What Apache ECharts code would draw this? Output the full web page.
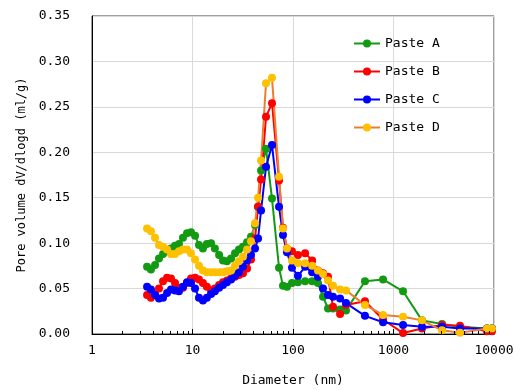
<!DOCTYPE html>
<html>
<head>
<meta charset="utf-8">
<script src="https://cdn.jsdelivr.net/npm/echarts@6/dist/echarts.min.js"></script>
<style>html,body{margin:0;padding:0;background:#fff}#c{width:520px;height:390px}</style>
</head>
<body>
<div id="c"></div>
<script>
// Pore diameters (nm)
const diameters = [3.53,3.86,4.24,4.64,5.09,5.58,6.11,6.70,7.34,8.04,8.82,9.66,10.6,11.6,12.7,13.9,15.3,16.7,18.4,20.1,22.0,24.2,26.5,29.0,31.8,34.9,38.2,41.9,44.9,48.1,53.9,61.8,72.6,79.5,87.1,97.7,112,132,155,177,199,223,250,294,337,520,787,1245,1920,3040,4590,8510,9550];
const pasteA = [0.074,0.071,0.076,0.083,0.088,0.091,0.094,0.097,0.099,0.106,0.111,0.112,0.108,0.098,0.094,0.099,0.100,0.094,0.087,0.081,0.080,0.083,0.089,0.093,0.096,0.101,0.107,0.120,0.140,0.180,0.204,0.149,0.073,0.053,0.052,0.056,0.057,0.058,0.058,0.056,0.041,0.028,0.028,0.027,0.026,0.058,0.060,0.047,0.015,0.011,0.008,0.006,0.006];
const pasteB = [0.043,0.040,0.044,0.050,0.058,0.062,0.061,0.056,0.051,0.051,0.056,0.061,0.062,0.060,0.056,0.052,0.048,0.050,0.054,0.057,0.059,0.061,0.063,0.065,0.067,0.072,0.082,0.105,0.140,0.170,0.239,0.254,0.169,0.117,0.094,0.091,0.087,0.089,0.081,0.070,0.067,0.063,0.030,0.022,0.032,0.036,0.016,0.001,0.006,0.010,0.009,0.003,0.003];
const pasteC = [0.052,0.049,0.043,0.039,0.040,0.045,0.049,0.048,0.047,0.052,0.057,0.056,0.050,0.040,0.037,0.040,0.044,0.047,0.051,0.054,0.057,0.060,0.064,0.068,0.074,0.081,0.087,0.094,0.105,0.136,0.184,0.208,0.140,0.109,0.090,0.073,0.064,0.074,0.068,0.063,0.050,0.043,0.041,0.039,0.034,0.020,0.013,0.010,0.008,0.008,0.006,0.006,0.006];
const pasteD = [0.116,0.113,0.106,0.098,0.096,0.093,0.088,0.088,0.091,0.093,0.093,0.089,0.082,0.075,0.070,0.068,0.068,0.068,0.068,0.068,0.069,0.070,0.075,0.080,0.085,0.093,0.102,0.122,0.150,0.191,0.276,0.282,0.173,0.116,0.094,0.081,0.078,0.078,0.075,0.070,0.066,0.059,0.053,0.049,0.048,0.032,0.021,0.019,0.015,0.004,0.0015,0.006,0.006];
const seriesNames = ['Paste A','Paste B','Paste C','Paste D'];
const minorTicks = [2,3,4,5,6,7,8,9,20,30,40,50,60,70,80,90,200,300,400,500,600,700,800,900,2000,3000,4000,5000,6000,7000,8000,9000];

const FONT = '"DejaVu Sans Mono", "Liberation Mono", monospace';
const chart = echarts.init(document.getElementById('c'));
const pair = ys => diameters.map((d, i) => [d, ys[i]]);
const lineSeries = (name, ys, lineColor, dotColor) => ({
  name, type: 'line', data: pair(ys), symbol: 'circle', symbolSize: 8,
  lineStyle: { color: lineColor, width: 2 }, itemStyle: { color: dotColor },
  animation: false
});
chart.setOption({
  animation: false,
  grid: { left: 92, right: 26, top: 16, bottom: 56, show: true, borderColor: '#404040', borderWidth: 1, outerBoundsMode: 'none', containLabel: false },
  legend: {
    data: seriesNames, orient: 'vertical', left: 348, top: 32,
    itemWidth: 26, itemHeight: 10, itemGap: 15,
    textStyle: { fontFamily: FONT, fontSize: 13, color: '#000' }
  },
  xAxis: {
    type: 'log', logBase: 10, min: 1, max: 10000,
    name: 'Diameter (nm)', nameLocation: 'middle', nameGap: 40,
    nameTextStyle: { fontFamily: FONT, fontSize: 13, color: '#000' },
    axisLine: { show: true, lineStyle: { color: '#000' } },
    axisTick: { show: true, inside: true, length: 5, lineStyle: { color: '#000', width: 1 } },
    axisLabel: { fontFamily: FONT, fontSize: 13, color: '#000', margin: 10, formatter: v => String(Math.round(v)) },
    splitLine: { show: true, lineStyle: { color: '#d9d9d9' } }
  },
  yAxis: {
    type: 'value', min: 0, max: 0.35, interval: 0.05,
    name: 'Pore volume dV/dlogd (ml/g)', nameLocation: 'middle', nameGap: 62,
    nameTextStyle: { fontFamily: FONT, fontSize: 12, color: '#000' },
    axisLine: { show: true, lineStyle: { color: '#000' } },
    axisTick: { show: false },
    axisLabel: { fontFamily: FONT, fontSize: 13, color: '#000', margin: 22, formatter: v => v.toFixed(2) },
    splitLine: { show: true, lineStyle: { color: '#d9d9d9' } }
  },
  series: [
    lineSeries('Paste A', pasteA, '#139a13', '#139a13'),
    lineSeries('Paste B', pasteB, '#ff0000', '#ff0000'),
    lineSeries('Paste C', pasteC, '#0000ff', '#0000ff'),
    lineSeries('Paste D', pasteD, '#ed7d31', '#ffc000')
  ]
});
// minor ticks on the log axis, positioned through the chart's own scale
const tickEls = [];
minorTicks.forEach(v => {
  const p = chart.convertToPixel({ xAxisIndex: 0, yAxisIndex: 0 }, [v, 0]);
  if (p && isFinite(p[0]) && isFinite(p[1])) {
    const x = Math.round(p[0]) + 0.5, y = Math.round(p[1]);
    tickEls.push({ type: 'line', silent: true, z: 100,
      shape: { x1: x, y1: y, x2: x, y2: y - 3 },
      style: { stroke: '#000', lineWidth: 1 } });
  }
});
chart.setOption({ graphic: tickEls });
</script>
</body>
</html>
